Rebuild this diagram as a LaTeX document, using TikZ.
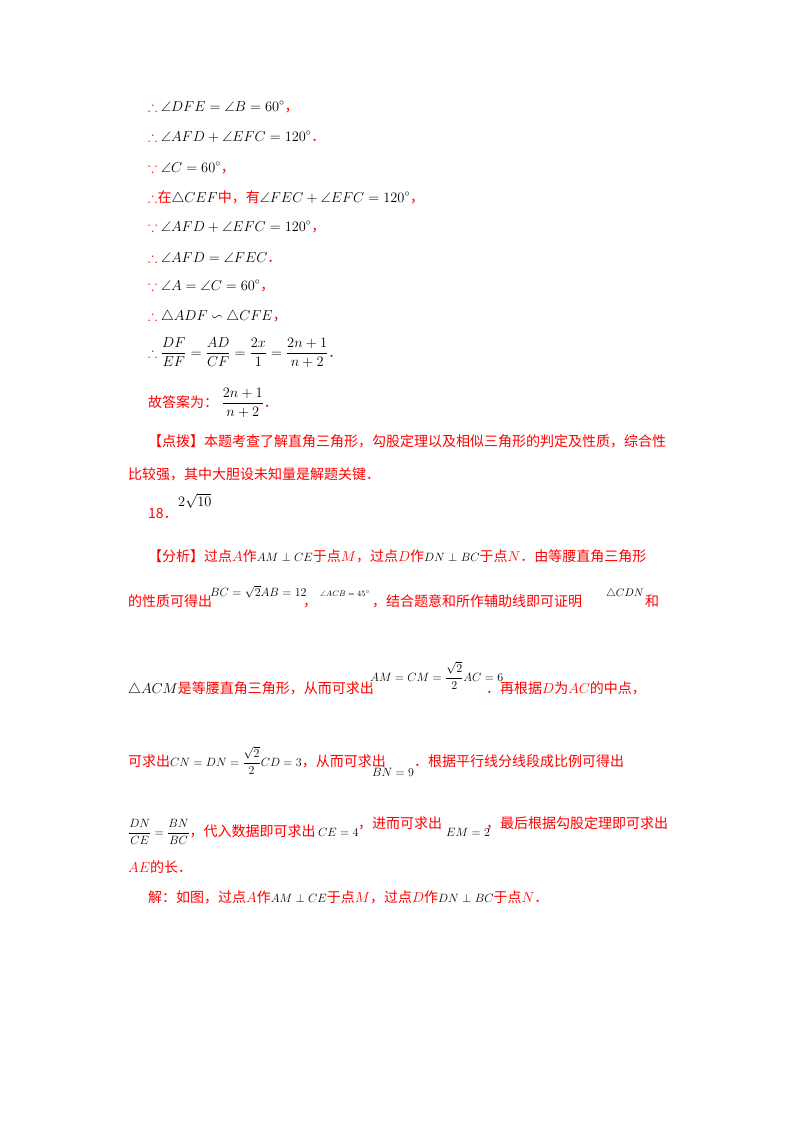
\documentclass[tikz,border=0pt]{standalone}
\usepackage{amsmath,amssymb}
\usepackage{fontspec}
\setmainfont{Liberation Serif}
\newfontfamily\cjk{Noto Sans CJK SC}
\newcommand{\R}[1]{\textcolor{red}{\cjk #1}}
\newcommand{\so}{\textcolor{red}{$\therefore$}}
\newcommand{\bc}{\textcolor{red}{$\because$}}
\begin{document}
\begin{tikzpicture}[x=1pt,y=-1pt,
  t/.style={anchor=base west,inner sep=0pt,font=\fontsize{14}{16}\selectfont},
  m/.style={anchor=base west,inner sep=0pt,font=\fontsize{12}{14}\selectfont}]
\useasboundingbox (0,0) rectangle (800,1132);
\node[t] (l1) at (148,111) {\so\ $\angle DFE=\angle B=60^\circ$\R{，}};
\node[t] (l2) at (148,141) {\so\ $\angle AFD+\angle EFC=120^\circ$\R{．}};
\node[t] (l3) at (148,172) {\bc\ $\angle C=60^\circ$\R{，}};
\node[t] (l4) at (148,202) {\so\R{在}$\triangle CEF$\R{中，有}$\angle FEC+\angle EFC=120^\circ$\R{，}};
\node[t] (l5) at (148,231) {\bc\ $\angle AFD+\angle EFC=120^\circ$\R{，}};
\node[t] (l6) at (148,262) {\so\ $\angle AFD=\angle FEC$\R{．}};
\node[t] (l7) at (148,290) {\bc\ $\angle A=\angle C=60^\circ$\R{，}};
\node[t] (l8) at (148,320) {\so\ $\triangle ADF\backsim\triangle CFE$\R{，}};
\node[t] (l9) at (148,357) {\so\ $\dfrac{DF}{EF}=\dfrac{AD}{CF}=\dfrac{2x}{1}=\dfrac{2n+1}{n+2}$\R{．}};
\node[t] (l10) at (148,407) {\R{故答案为：}\ $\dfrac{2n+1}{n+2}$\R{．}};
\node[t] (l11) at (148,446) {\R{【点拨】本题考查了解直角三角形，勾股定理以及相似三角形的判定及性质，综合性}};
\node[t] (l12) at (128,479) {\R{比较强，其中大胆设未知量是解题关键．}};
\node[t] (l13) at (148,518) {\R{18．}};
\node[t] (l13b) at (178,506) {$2\sqrt{10}$};
\node[t] (l14) at (148,561) {\R{【分析】过点}\textcolor{red}{$A$}\R{作}{\fontsize{12}{14}\selectfont$AM\perp CE$}\R{于点}\textcolor{red}{$M$}\R{，过点}\textcolor{red}{$D$}\R{作}{\fontsize{12}{14}\selectfont$DN\perp BC$}\R{于点}\textcolor{red}{$N$}\R{．由等腰直角三角形}};
\node[t] (l15) at (128,606) {\R{的性质可得出}};
\node[m] (l15b) at (210,596) {$BC=\sqrt{2}AB=12$};
\node[t] (l15c) at (303,606) {\R{，}};
\node[m] (l15d) at (320,596) {\fontsize{8}{10}\selectfont$\angle ACB=45^\circ$};
\node[t] (l15e) at (372,606) {\R{，结合题意和所作辅助线即可证明}};
\node[m] (l15f) at (606,596) {\fontsize{11}{13}\selectfont$\triangle CDN$};
\node[t] (l15g) at (645,606) {\R{和}};
\node[t] (l16) at (128,693) {$\triangle ACM$\R{是等腰直角三角形，从而可求出}};
\node[m] (l16b) at (370,681) {$AM=CM=\dfrac{\sqrt{2}}{2}AC=6$};
\node[t] (l16c) at (486,693) {\R{．再根据}\textcolor{red}{$D$}\R{为}\textcolor{red}{$AC$}\R{的中点，}};
\node[t] (l17) at (128,766) {\R{可求出}{\fontsize{12}{14}\selectfont$CN=DN=\dfrac{\sqrt{2}}{2}CD=3$}\R{，从而可求出}};
\node[m] (l17b) at (372,776) {$BN=9$};
\node[t] (l17c) at (414,766) {\R{．根据平行线分线段成比例可得出}};
\node[t] (l18) at (128,836) {{\fontsize{12}{14}\selectfont$\dfrac{DN}{CE}=\dfrac{BN}{BC}$}\R{，代入数据即可求出}};
\node[m] (l18b) at (318,836) {$CE=4$};
\node[t] (l18c) at (358,828) {\R{，进而可求出}};
\node[m] (l18d) at (446,836) {$EM=2$};
\node[t] (l18e) at (486,828) {\R{，最后根据勾股定理即可求出}};
\node[t] (l19) at (128,872) {\textcolor{red}{$AE$}\R{的长．}};
\node[t] (l20) at (148,902) {\R{解：如图，过点}\textcolor{red}{$A$}\R{作}{\fontsize{12}{14}\selectfont$AM\perp CE$}\R{于点}\textcolor{red}{$M$}\R{，过点}\textcolor{red}{$D$}\R{作}{\fontsize{12}{14}\selectfont$DN\perp BC$}\R{于点}\textcolor{red}{$N$}\R{．}};
\end{tikzpicture}
\end{document}
